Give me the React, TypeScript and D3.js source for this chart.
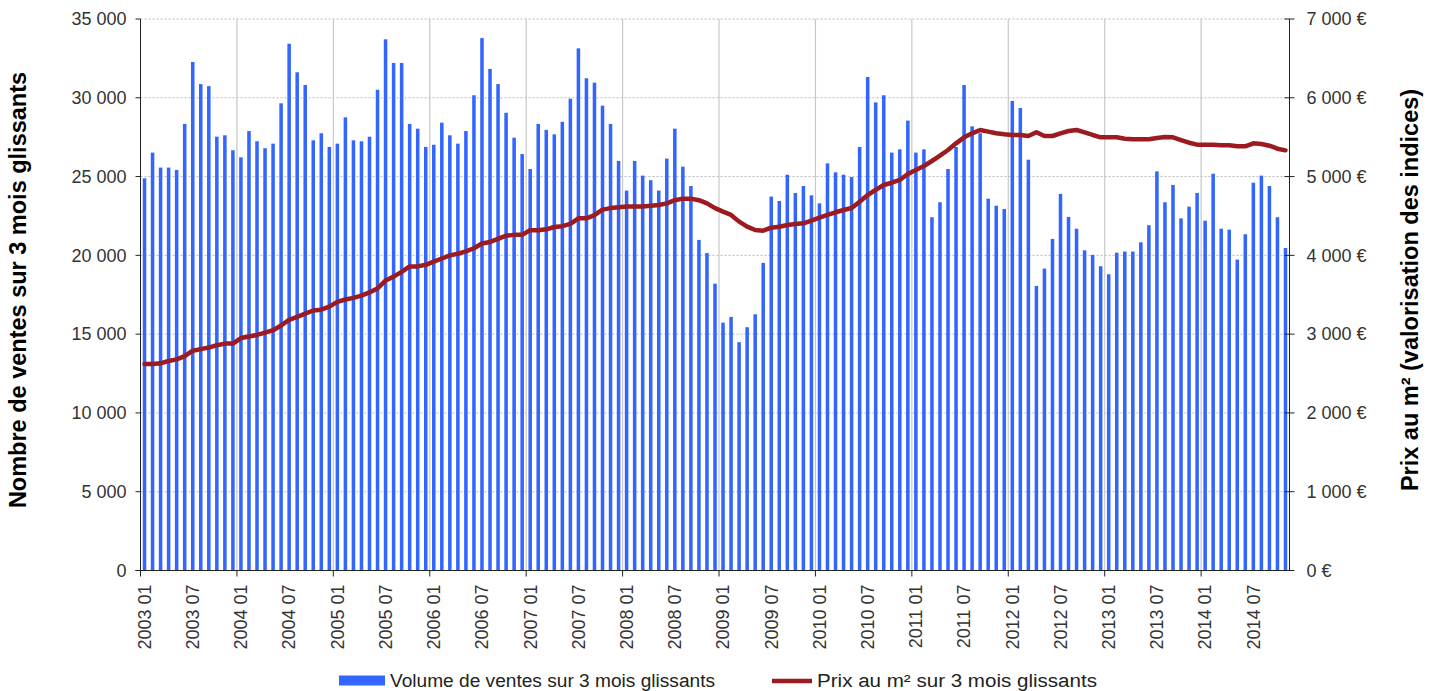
import { useEffect, useRef } from 'react';
import * as d3 from 'd3';

// monthly categories, 2003-01 .. 2014-11
const months = d3.timeMonth.range(new Date(2003, 0, 1), new Date(2014, 11, 1));

const volumes = [
  24890, 26520, 25570, 25570, 25420, 28340, 32270, 30870, 30740, 27530, 27620, 26670,
  26220, 27890, 27240, 26800, 27090, 29650, 33430, 31620, 30810, 27300, 27750, 26880,
  27090, 28760, 27300, 27240, 27530, 30510, 33710, 32210, 32210, 28340, 28040, 26880,
  27020, 28420, 27620, 27090, 27890, 30160, 33790, 31830, 30870, 29050, 27470, 26430,
  25480, 28340, 27960, 27680, 28480, 29940, 33140, 31240, 30960, 29500, 28340, 25990,
  24110, 25990, 25060, 24770, 24110, 26140, 28040, 25630, 24400, 20980, 20150, 18200,
  15730, 16090, 14490, 15440, 16260, 19520, 23730, 23450, 25120, 23960, 24400, 23810,
  23300, 25840, 25270, 25120, 24970, 26880, 31320, 29710, 30160, 26520, 26730, 28550,
  26520, 26730, 22420, 23370, 25480, 26880, 30810, 28190, 27750, 23600, 23150, 22940,
  29800, 29350, 26070, 18060, 19160, 21040, 23900, 22440, 21690, 20320, 20030, 19310,
  18800, 20170, 20240, 20240, 20830, 21910, 25330, 23370, 24470, 22350, 23090, 23960,
  22200, 25180, 21690, 21630, 19730, 21340, 24610, 25060, 24400, 22420, 20470,
];

const prices = [
  2620, 2620, 2630, 2660, 2680, 2720, 2790, 2810, 2830, 2860, 2880, 2880,
  2950, 2970, 2990, 3020, 3050, 3110, 3180, 3220, 3260, 3300, 3310, 3350,
  3410, 3440, 3460, 3490, 3530, 3580, 3680, 3730, 3790, 3860, 3860, 3880,
  3920, 3960, 4000, 4020, 4050, 4090, 4150, 4170, 4210, 4250, 4260, 4260,
  4320, 4320, 4330, 4360, 4370, 4400, 4470, 4470, 4510, 4580, 4600, 4610,
  4620, 4620, 4620, 4630, 4640, 4660, 4700, 4720, 4720, 4700, 4660, 4600,
  4555, 4513, 4428, 4364, 4322, 4313, 4351, 4364, 4386, 4398, 4407, 4440,
  4478, 4513, 4547, 4576, 4601, 4681, 4766, 4830, 4893, 4922, 4957, 5033,
  5084, 5134, 5198, 5265, 5337, 5422, 5498, 5549, 5591, 5570, 5549, 5537,
  5528, 5528, 5515, 5562, 5515, 5515, 5549, 5578, 5591, 5562, 5528, 5498,
  5498, 5498, 5481, 5473, 5473, 5473, 5490, 5502, 5498, 5464, 5430, 5405,
  5405, 5405, 5397, 5397, 5384, 5384, 5422, 5414, 5392, 5354, 5333,
];

const volumeTicks = [0, 5000, 10000, 15000, 20000, 25000, 30000, 35000];
const priceTicks = [0, 1000, 2000, 3000, 4000, 5000, 6000, 7000];

const leftTitle = 'Nombre de ventes sur 3 mois glissants';
const rightTitle = 'Prix au m² (valorisation des indices)';
const legendBars = 'Volume de ventes sur 3 mois glissants';
const legendLine = 'Prix au m² sur 3 mois glissants';

const BLUE = '#3366ff';
const RED = '#9b1b20';
const FONT = "'Liberation Sans', Arial, sans-serif";

export default function App() {
  const svgRef = useRef<SVGSVGElement>(null);

  useEffect(() => {
    const svg = d3.select(svgRef.current);
    svg.selectAll('*').remove();

    const W = 1436, H = 691;
    const left = 140.5, right = 1289.5, top = 19, bottom = 570.5;

    const fr = d3.formatLocale({ decimal: ',', thousands: '\u00a0', grouping: [3], currency: ['', '\u00a0€'] });
    const fmt = fr.format(',');

    const x = d3.scaleBand<Date>().domain(months).range([left, right]).paddingInner(0.56).paddingOuter(0.28);
    const yV = d3.scaleLinear().domain([0, 35000]).range([bottom, top]);
    const yP = d3.scaleLinear().domain([0, 7000]).range([bottom, top]);
    const step = x.step();
    const cx = (d: Date) => (x(d) ?? 0) + x.bandwidth() / 2;

    svg.attr('width', W).attr('height', H).attr('viewBox', `0 0 ${W} ${H}`);
    svg.append('rect').attr('width', W).attr('height', H).attr('fill', '#fff');

    // horizontal dotted grid
    volumeTicks.slice(1).forEach(v => {
      svg.append('line')
        .attr('x1', left).attr('x2', right)
        .attr('y1', yV(v)).attr('y2', yV(v))
        .attr('stroke', '#b8b8b8').attr('stroke-width', 1).attr('stroke-dasharray', '2,2');
    });

    // yearly vertical grid (between december and january)
    const janIdx = months.map((m, i) => (m.getMonth() === 0 && i > 0 ? i : -1)).filter(i => i > 0);
    janIdx.forEach(i => {
      const gx = left + i * step;
      svg.append('line')
        .attr('x1', gx).attr('x2', gx).attr('y1', top).attr('y2', bottom)
        .attr('stroke', '#c8c8c8').attr('stroke-width', 1.2);
    });

    // bars
    svg.append('g').selectAll('rect').data(months).join('rect')
      .attr('x', d => x(d) ?? 0)
      .attr('width', x.bandwidth())
      .attr('y', (_, i) => yV(volumes[i]))
      .attr('height', (_, i) => bottom - yV(volumes[i]))
      .attr('fill', BLUE);

    // price line
    const line = d3.line<number>()
      .x((_, i) => cx(months[i]))
      .y(d => yP(d));
    svg.append('path')
      .datum(prices)
      .attr('d', line)
      .attr('fill', 'none')
      .attr('stroke', RED)
      .attr('stroke-width', 4.5)
      .attr('stroke-linejoin', 'round')
      .attr('stroke-linecap', 'round');

    // axes lines
    const axisCol = '#222';
    svg.append('line').attr('x1', left).attr('x2', left).attr('y1', top).attr('y2', bottom).attr('stroke', axisCol);
    svg.append('line').attr('x1', right).attr('x2', right).attr('y1', top).attr('y2', bottom).attr('stroke', axisCol);
    svg.append('line').attr('x1', left - 5).attr('x2', right).attr('y1', bottom).attr('y2', bottom).attr('stroke', axisCol);

    // left ticks
    volumeTicks.forEach(v => {
      svg.append('line').attr('x1', left - 5).attr('x2', left).attr('y1', yV(v)).attr('y2', yV(v)).attr('stroke', axisCol);
      svg.append('text')
        .attr('x', left - 14).attr('y', yV(v)).attr('dy', '0.35em')
        .attr('text-anchor', 'end').attr('font-family', FONT).attr('font-size', 18).attr('fill', '#333')
        .text(fmt(v));
    });

    // right ticks
    priceTicks.forEach(v => {
      svg.append('line').attr('x1', right - 5).attr('x2', right + 5).attr('y1', yP(v)).attr('y2', yP(v)).attr('stroke', axisCol);
      svg.append('text')
        .attr('x', right + 17).attr('y', yP(v)).attr('dy', '0.35em')
        .attr('text-anchor', 'start').attr('font-family', FONT).attr('font-size', 18).attr('fill', '#333')
        .text(fmt(v) + '\u00a0€');
    });

    // x ticks (yearly) + labels (every 6 months)
    [0, ...janIdx].forEach(i => {
      const gx = left + i * step;
      svg.append('line').attr('x1', gx).attr('x2', gx).attr('y1', bottom).attr('y2', bottom + 6).attr('stroke', axisCol);
    });
    const labelFmt = d3.timeFormat('%Y %m');
    months.forEach(m => {
      if (m.getMonth() % 6 !== 0) return;
      const lx = cx(m);
      svg.append('text')
        .attr('transform', `translate(${lx},${bottom + 14}) rotate(-90)`)
        .attr('dy', '0.35em')
        .attr('text-anchor', 'end').attr('font-family', FONT).attr('font-size', 18).attr('fill', '#333')
        .text(labelFmt(m));
    });

    // axis titles
    svg.append('text')
      .attr('transform', `translate(18,290) rotate(-90)`)
      .attr('dy', '0.35em').attr('text-anchor', 'middle')
      .attr('font-family', FONT).attr('font-size', 23.5).attr('font-weight', 'bold').attr('fill', '#000')
      .text(leftTitle);
    svg.append('text')
      .attr('transform', `translate(1410,290) rotate(-90)`)
      .attr('dy', '0.35em').attr('text-anchor', 'middle')
      .attr('font-family', FONT).attr('font-size', 23.5).attr('font-weight', 'bold').attr('fill', '#000')
      .text(rightTitle);

    // legend
    const ly = 681;
    svg.append('rect').attr('x', 339).attr('y', ly - 5.5).attr('width', 46).attr('height', 10).attr('fill', BLUE);
    svg.append('text').attr('x', 390).attr('y', ly).attr('dy', '0.35em')
      .attr('font-family', FONT).attr('font-size', 18).attr('fill', '#222')
      .attr('textLength', 325).attr('lengthAdjust', 'spacingAndGlyphs').text(legendBars);
    svg.append('line').attr('x1', 772).attr('x2', 812).attr('y1', ly).attr('y2', ly)
      .attr('stroke', RED).attr('stroke-width', 4.5);
    svg.append('text').attr('x', 817).attr('y', ly).attr('dy', '0.35em')
      .attr('font-family', FONT).attr('font-size', 18).attr('fill', '#222')
      .attr('textLength', 280).attr('lengthAdjust', 'spacingAndGlyphs').text(legendLine);
  }, []);

  return (
    <svg
      ref={svgRef}
      style={{ position: 'absolute', left: 0, top: 0, display: 'block' }}
      role="img"
      aria-label="Volume de ventes et prix au m² sur 3 mois glissants"
    />
  );
}
